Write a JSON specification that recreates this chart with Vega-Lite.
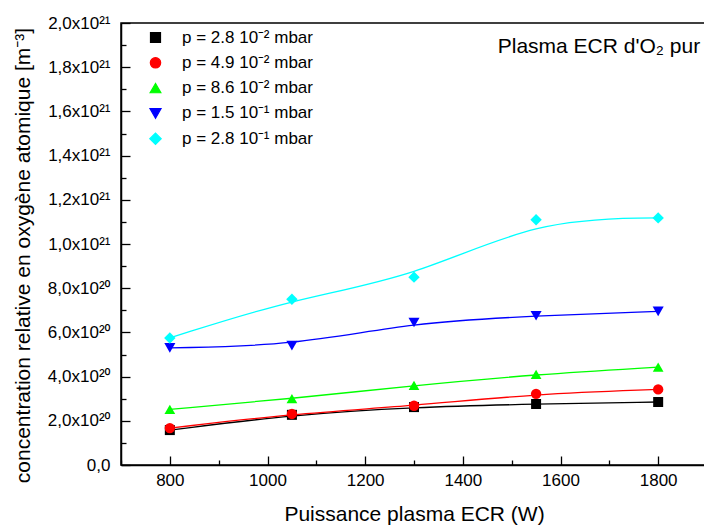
{
  "$schema": "https://vega.github.io/schema/vega-lite/v6.json",
  "autosize": "none",
  "width": 586,
  "height": 442,
  "padding": {"left": 121, "top": 23, "right": 0, "bottom": 61},
  "background": "white",
  "config": {
    "font": "Liberation Sans",
    "view": {"stroke": "black", "strokeWidth": 1.5},
    "axis": {"domainColor": "black", "domainWidth": 1.5, "tickColor": "black", "tickWidth": 1.3, "labelColor": "black", "labelFont": "Liberation Sans, Noto Sans", "labelFontSize": 17, "titleFont": "Liberation Sans, Noto Sans", "titleFontSize": 21, "titleFontWeight": "normal", "titleColor": "black", "grid": false}
  },
  "datasets": {
    "pts": [
      {"series": "p = 2.8 10⁻² mbar", "power": 800, "conc": 1.58e20},
      {"series": "p = 2.8 10⁻² mbar", "power": 1050, "conc": 2.27e20},
      {"series": "p = 2.8 10⁻² mbar", "power": 1300, "conc": 2.62e20},
      {"series": "p = 2.8 10⁻² mbar", "power": 1550, "conc": 2.76e20},
      {"series": "p = 2.8 10⁻² mbar", "power": 1800, "conc": 2.85e20},
      {"series": "p = 4.9 10⁻² mbar", "power": 800, "conc": 1.67e20},
      {"series": "p = 4.9 10⁻² mbar", "power": 1050, "conc": 2.31e20},
      {"series": "p = 4.9 10⁻² mbar", "power": 1300, "conc": 2.68e20},
      {"series": "p = 4.9 10⁻² mbar", "power": 1550, "conc": 3.22e20},
      {"series": "p = 4.9 10⁻² mbar", "power": 1800, "conc": 3.42e20},
      {"series": "p = 8.6 10⁻² mbar", "power": 800, "conc": 2.52e20},
      {"series": "p = 8.6 10⁻² mbar", "power": 1050, "conc": 3.0e20},
      {"series": "p = 8.6 10⁻² mbar", "power": 1300, "conc": 3.6e20},
      {"series": "p = 8.6 10⁻² mbar", "power": 1550, "conc": 4.1e20},
      {"series": "p = 8.6 10⁻² mbar", "power": 1800, "conc": 4.43e20},
      {"series": "p = 1.5 10⁻¹ mbar", "power": 800, "conc": 5.3e20},
      {"series": "p = 1.5 10⁻¹ mbar", "power": 1050, "conc": 5.4e20},
      {"series": "p = 1.5 10⁻¹ mbar", "power": 1300, "conc": 6.45e20},
      {"series": "p = 1.5 10⁻¹ mbar", "power": 1550, "conc": 6.75e20},
      {"series": "p = 1.5 10⁻¹ mbar", "power": 1800, "conc": 6.95e20},
      {"series": "p = 2.8 10⁻¹ mbar", "power": 800, "conc": 5.75e20},
      {"series": "p = 2.8 10⁻¹ mbar", "power": 1050, "conc": 7.5e20},
      {"series": "p = 2.8 10⁻¹ mbar", "power": 1300, "conc": 8.5e20},
      {"series": "p = 2.8 10⁻¹ mbar", "power": 1550, "conc": 1.11e21},
      {"series": "p = 2.8 10⁻¹ mbar", "power": 1800, "conc": 1.118e21}
    ],
    "note": [{"label": "Plasma ECR d'O₂ pur", "power": 1886, "conc": 1.864e21}]
  },
  "encoding": {
    "x": {
      "field": "power", "type": "quantitative",
      "scale": {"domain": [700, 1900], "nice": false, "zero": false},
      "axis": {
        "title": "Puissance plasma ECR (W)",
        "values": [700, 800, 900, 1000, 1100, 1200, 1300, 1400, 1500, 1600, 1700, 1800, 1900],
        "format": "d",
        "labelExpr": "datum.value % 200 == 0 && datum.value >= 800 && datum.value <= 1800 ? datum.label : ''",
        "tickSize": {"condition": {"test": "datum.value % 200 == 0", "value": -9}, "value": -5},
        "labelPadding": 16,
        "titlePadding": 15
      }
    },
    "y": {
      "field": "conc", "type": "quantitative",
      "scale": {"domain": [0, 2e21], "nice": false},
      "axis": {
        "title": "concentration relative en oxygène atomique [m⁻³]",
        "values": [0, 1e20, 2e20, 3e20, 4e20, 5e20, 6e20, 7e20, 8e20, 9e20, 1e21, 1.1e21, 1.2e21, 1.3e21, 1.4e21, 1.5e21, 1.6e21, 1.7e21, 1.8e21, 1.9e21, 2e21],
        "labelExpr": "round(datum.value/1e20) % 2 != 0 ? '' : datum.value == 0 ? '0,0' : datum.value >= 1e21 ? replace(format(datum.value/1e21, '.1f'), '.', ',') + 'x10²¹' : replace(format(datum.value/1e20, '.1f'), '.', ',') + 'x10²⁰'",
        "tickSize": {"condition": {"test": "round(datum.value/1e20) % 2 == 0", "value": -9}, "value": -5},
        "labelPadding": 20,
        "titlePadding": 14,
        "titleY": 232
      }
    }
  },
  "layer": [
    {
      "data": {"name": "pts"},
      "mark": {"type": "line", "interpolate": "basis", "strokeWidth": 1.3},
      "encoding": {
        "color": {"field": "series", "type": "nominal",
          "scale": {"domain": ["p = 2.8 10⁻² mbar", "p = 4.9 10⁻² mbar", "p = 8.6 10⁻² mbar", "p = 1.5 10⁻¹ mbar", "p = 2.8 10⁻¹ mbar"], "range": ["#000000", "#ff0000", "#00ff00", "#0000ff", "#00ffff"]}}
      }
    },
    {
      "data": {"name": "pts"},
      "mark": {"type": "point", "filled": true, "opacity": 1},
      "encoding": {
        "color": {"field": "series", "type": "nominal",
          "legend": {
            "title": null, "orient": "none", "legendX": 26, "legendY": 6,
            "symbolSize": 100, "symbolStrokeWidth": 1.2,
            "labelFont": "Liberation Sans, Noto Sans", "labelFontSize": 17, "labelColor": "black",
            "labelOffset": 18, "rowPadding": 7.3, "padding": 0
          }},
        "shape": {"field": "series", "type": "nominal",
          "scale": {"domain": ["p = 2.8 10⁻² mbar", "p = 4.9 10⁻² mbar", "p = 8.6 10⁻² mbar", "p = 1.5 10⁻¹ mbar", "p = 2.8 10⁻¹ mbar"], "range": ["square", "circle", "triangle-up", "triangle-down", "diamond"]},
          "legend": null},
        "size": {"field": "series", "type": "nominal",
          "scale": {"domain": ["p = 2.8 10⁻² mbar", "p = 4.9 10⁻² mbar", "p = 8.6 10⁻² mbar", "p = 1.5 10⁻¹ mbar", "p = 2.8 10⁻¹ mbar"], "range": [100, 130, 200, 200, 200]},
          "legend": null}
      }
    },
    {
      "data": {"name": "note"},
      "mark": {"type": "text", "align": "right", "baseline": "alphabetic", "fontSize": 21, "font": "Liberation Sans, Noto Sans", "color": "black"},
      "encoding": {"text": {"field": "label"}}
    }
  ]
}
